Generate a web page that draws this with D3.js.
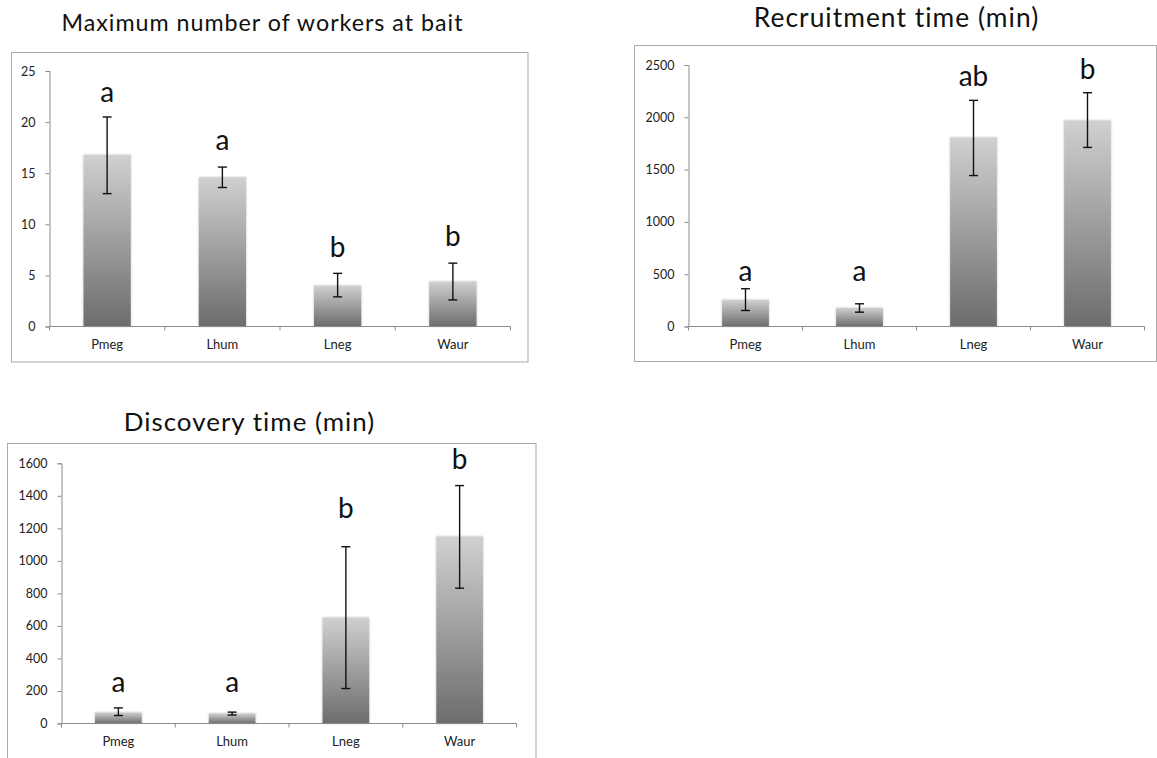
<!DOCTYPE html>
<html>
<head>
<meta charset="utf-8">
<script src="https://cdn.jsdelivr.net/npm/d3@7"></script>
<style>
  html, body { margin: 0; padding: 0; background: #fff; }
  svg { display: block; }
</style>
</head>
<body>
<svg id="chart" width="1157" height="758"></svg>
<script>
// ---------- data ----------
const categories = ["Pmeg", "Lhum", "Lneg", "Waur"];

const workersTitle = "Maximum number of workers at bait";
const workersMean = [16.8, 14.6, 4.0, 4.4];
const workersLow = [13.0, 13.6, 2.9, 2.6];
const workersHigh = [20.5, 15.6, 5.2, 6.2];
const workersLetters = ["a", "a", "b", "b"];
const workersLetterAt = [22.0, 17.25, 6.8, 7.9];
const workersTicks = [0, 5, 10, 15, 20, 25];

const recruitTitle = "Recruitment time (min)";
const recruitMean = [256, 179, 1807, 1970];
const recruitLow = [153, 137, 1443, 1712];
const recruitHigh = [361, 217, 2162, 2235];
const recruitLetters = ["a", "a", "ab", "b"];
const recruitLetterAt = [434, 434, 2302, 2366];
const recruitTicks = [0, 500, 1000, 1500, 2000, 2500];

const discoveryTitle = "Discovery time (min)";
const discoveryMean = [68, 62, 652, 1150];
const discoveryLow = [49, 52, 215, 832];
const discoveryHigh = [96, 70, 1087, 1463];
const discoveryLetters = ["a", "a", "b", "b"];
const discoveryLetterAt = [191, 191, 1262, 1563];
const discoveryTicks = [0, 200, 400, 600, 800, 1000, 1200, 1400, 1600];

// ---------- drawing ----------
const svg = d3.select("#chart");
const defs = svg.append("defs");
const grad = defs.append("linearGradient").attr("id", "barGrad")
  .attr("x1", 0).attr("y1", 0).attr("x2", 0).attr("y2", 1);
grad.append("stop").attr("offset", "0%").attr("stop-color", "#d0d0d0");
grad.append("stop").attr("offset", "100%").attr("stop-color", "#6c6c6c");
const shadow = defs.append("filter").attr("id", "soft")
  .attr("x", "-10%").attr("y", "-10%").attr("width", "120%").attr("height", "120%");
shadow.append("feDropShadow").attr("dx", 0).attr("dy", 0)
  .attr("stdDeviation", 1.2).attr("flood-color", "#000").attr("flood-opacity", 0.25);

const FONT = "Lato, 'Open Sans', sans-serif";

function panel(cfg) {
  const { frame, plot, title, mean, low, high, letters, letterAt, ticks } = cfg;
  const g = svg.append("g");

  // frame
  g.append("rect")
    .attr("x", frame.x).attr("y", frame.y)
    .attr("width", frame.w).attr("height", frame.h)
    .attr("fill", "#fff").attr("stroke", "#a9a9a9").attr("stroke-width", 1);

  // title: slightly smaller glyphs, letter-spacing fills the reference width
  const t = g.append("text")
    .attr("x", title.x).attr("y", title.y)
    .attr("text-anchor", "middle")
    .attr("font-family", FONT).attr("font-size", 20)
    .attr("fill", "#111")
    .text(title.text);
  const len = t.node().getComputedTextLength();
  if (len > 0) {
    const fs = 20 * title.width / len * 0.92;
    t.attr("font-size", fs);
    const len2 = t.node().getComputedTextLength();
    const n = title.text.length;
    t.attr("letter-spacing", (title.width - len2) / n);
    t.attr("x", title.x + (title.width - len2) / n / 2);
  }

  const x = d3.scaleBand().domain(categories)
    .range([plot.x0, plot.x1]).paddingInner(0.59).paddingOuter(0.295);
  const y = d3.scaleLinear().domain([0, ticks[ticks.length - 1]])
    .range([plot.y0, plot.y1]);

  const data = categories.map((c, i) => ({
    c, m: mean[i], lo: low[i], hi: high[i], L: letters[i], la: letterAt[i]
  }));

  // bars
  g.append("g").selectAll("rect").data(data).join("rect")
    .attr("x", d => x(d.c)).attr("width", x.bandwidth())
    .attr("y", d => y(d.m)).attr("height", d => y(0) - y(d.m))
    .attr("fill", "url(#barGrad)")
    .attr("filter", "url(#soft)");

  // y axis
  const yAxis = g.append("g")
    .attr("transform", `translate(${plot.x0},0)`)
    .call(d3.axisLeft(y).tickValues(ticks).tickSize(4).tickPadding(10).tickFormat(d3.format("d")));
  yAxis.select(".domain").attr("stroke", "#8c8c8c");
  yAxis.selectAll(".tick line").attr("stroke", "#8c8c8c");
  yAxis.selectAll(".tick text").attr("font-size", 12.5).attr("fill", "#222")
    .attr("font-family", FONT);

  // x axis: line with boundary ticks
  const step = x.step();
  const bounds = d3.range(categories.length + 1).map(i => plot.x0 + i * step);
  const xAxis = g.append("g");
  xAxis.append("line")
    .attr("x1", plot.x0).attr("x2", plot.x1)
    .attr("y1", y(0)).attr("y2", y(0))
    .attr("stroke", "#8c8c8c");
  xAxis.selectAll("line.bt").data(bounds).join("line").attr("class", "bt")
    .attr("x1", d => d).attr("x2", d => d)
    .attr("y1", y(0)).attr("y2", y(0) + 4)
    .attr("stroke", "#8c8c8c");
  xAxis.selectAll("text").data(categories).join("text")
    .attr("x", d => x(d) + x.bandwidth() / 2)
    .attr("y", y(0) + 22)
    .attr("text-anchor", "middle")
    .attr("font-family", FONT).attr("font-size", 13).attr("fill", "#222")
    .text(d => d);

  // error bars
  const eb = g.append("g").attr("stroke", "#111").attr("stroke-width", 1.4);
  const cx = d => x(d.c) + x.bandwidth() / 2;
  eb.selectAll("line.v").data(data).join("line").attr("class", "v")
    .attr("x1", cx).attr("x2", cx)
    .attr("y1", d => y(d.hi)).attr("y2", d => y(d.lo));
  eb.selectAll("line.t").data(data).join("line").attr("class", "t")
    .attr("x1", d => cx(d) - 4.5).attr("x2", d => cx(d) + 4.5)
    .attr("y1", d => y(d.hi)).attr("y2", d => y(d.hi));
  eb.selectAll("line.b").data(data).join("line").attr("class", "b")
    .attr("x1", d => cx(d) - 4.5).attr("x2", d => cx(d) + 4.5)
    .attr("y1", d => y(d.lo)).attr("y2", d => y(d.lo));

  // significance letters
  g.append("g").selectAll("text").data(data).join("text")
    .attr("x", cx)
    .attr("y", d => y(d.la))
    .attr("text-anchor", "middle")
    .attr("font-family", FONT).attr("font-size", 28).attr("fill", "#111")
    .text(d => d.L);
}

panel({
  frame: { x: 11.5, y: 52.5, w: 516.5, h: 309.5 },
  plot: { x0: 49.5, x1: 510.5, y0: 326.5, y1: 71 },
  title: { x: 262, y: 30.5, width: 402, text: workersTitle },
  mean: workersMean, low: workersLow, high: workersHigh,
  letters: workersLetters, letterAt: workersLetterAt, ticks: workersTicks
});

panel({
  frame: { x: 634.5, y: 45.5, w: 522, h: 316 },
  plot: { x0: 688.5, x1: 1144.5, y0: 326.5, y1: 65 },
  title: { x: 896, y: 26.5, width: 286, text: recruitTitle },
  mean: recruitMean, low: recruitLow, high: recruitHigh,
  letters: recruitLetters, letterAt: recruitLetterAt, ticks: recruitTicks
});

panel({
  frame: { x: 7.5, y: 443.5, w: 528.5, h: 340 },
  plot: { x0: 61.5, x1: 516.5, y0: 723.5, y1: 463.3 },
  title: { x: 249, y: 431, width: 252, text: discoveryTitle },
  mean: discoveryMean, low: discoveryLow, high: discoveryHigh,
  letters: discoveryLetters, letterAt: discoveryLetterAt, ticks: discoveryTicks
});
</script>
</body>
</html>
